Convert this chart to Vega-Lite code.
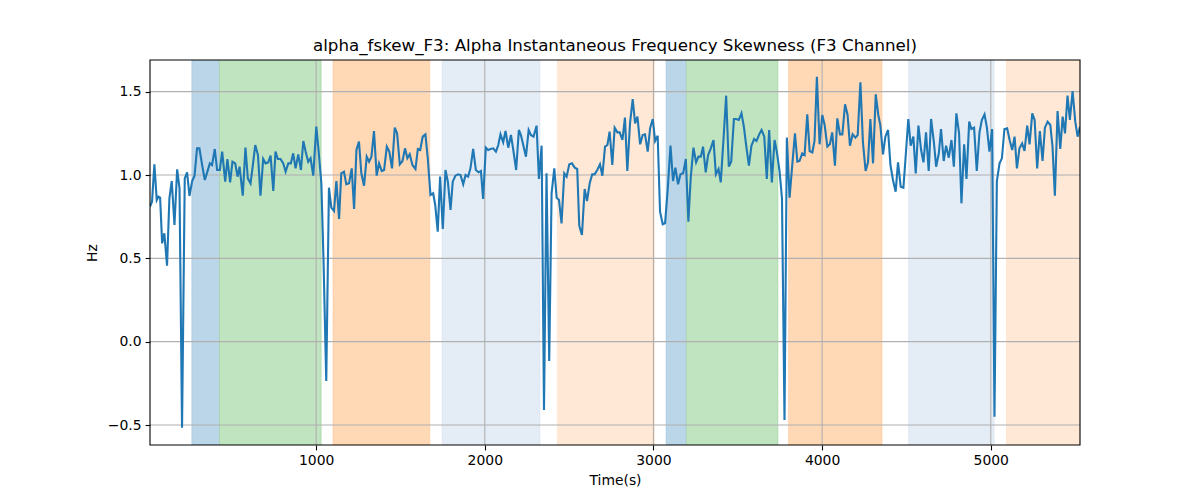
{
  "$schema": "https://vega.github.io/schema/vega-lite/v6.json",
  "width": 930,
  "height": 385,
  "autosize": {"type": "none"},
  "padding": {"left": 150, "top": 60, "right": 120, "bottom": 55},
  "background": "white",
  "title": {"text": "alpha_fskew_F3: Alpha Instantaneous Frequency Skewness (F3 Channel)", "font": "DejaVu Sans", "fontSize": 16.7, "fontWeight": "normal", "color": "black", "anchor": "middle", "frame": "group", "offset": -8, "baseline": "alphabetic"},
  "config": {
    "view": {"stroke": null},
    "axis": {"labelFont": "DejaVu Sans", "labelFontSize": 13.9, "labelColor": "black", "titleFont": "DejaVu Sans", "titleFontSize": 13.9, "titleFontWeight": "normal", "titleColor": "black", "tickColor": "black", "tickSize": 4.9, "tickWidth": 1.1, "domain": false, "grid": false, "labelPadding": 4}
  },
  "datasets": {
    "bands": [
      {"start": 263, "end": 427, "kind": "blue"},
      {"start": 427, "end": 1030, "kind": "green"},
      {"start": 1100, "end": 1674, "kind": "orange"},
      {"start": 1747, "end": 2327, "kind": "lightblue"},
      {"start": 2430, "end": 3006, "kind": "lightorange"},
      {"start": 3075, "end": 3195, "kind": "blue"},
      {"start": 3195, "end": 3738, "kind": "green"},
      {"start": 3801, "end": 4355, "kind": "orange"},
      {"start": 4513, "end": 5020, "kind": "lightblue"},
      {"start": 5093, "end": 5529, "kind": "lightorange"}
    ],
    "frame": [{"x0": 15, "x1": 5529, "y0": -0.62, "y1": 1.69}],
    "xgrid": [{"g": 1000}, {"g": 2000}, {"g": 3000}, {"g": 4000}, {"g": 5000}],
    "ygrid": [{"g": -0.5}, {"g": 0}, {"g": 0.5}, {"g": 1.0}, {"g": 1.5}],
    "series": [
      {"t":15,"v":0.81},{"t":27,"v":0.84},{"t":41,"v":1.064},{"t":55,"v":0.85},{"t":65,"v":0.87},{"t":75,"v":0.864},{"t":87,"v":0.59},{"t":100,"v":0.65},{"t":116,"v":0.456},{"t":130,"v":0.86},
      {"t":144,"v":0.964},{"t":160,"v":0.70},{"t":176,"v":1.034},{"t":190,"v":0.92},{"t":205,"v":-0.516},{"t":221,"v":0.98},{"t":235,"v":1.016},{"t":249,"v":0.874},{"t":265,"v":0.964},{"t":279,"v":0.996},
      {"t":294,"v":1.16},{"t":308,"v":1.16},{"t":324,"v":1.06},{"t":340,"v":0.97},{"t":354,"v":1.016},{"t":370,"v":1.07},{"t":383,"v":1.06},{"t":399,"v":1.156},{"t":413,"v":1.03},{"t":429,"v":1.03},
      {"t":443,"v":1.14},{"t":461,"v":0.96},{"t":474,"v":1.096},{"t":490,"v":0.956},{"t":504,"v":1.08},{"t":520,"v":1.07},{"t":534,"v":0.99},{"t":546,"v":1.05},{"t":565,"v":0.876},{"t":581,"v":1.164},
      {"t":595,"v":0.98},{"t":611,"v":0.95},{"t":625,"v":1.06},{"t":639,"v":1.18},{"t":655,"v":1.12},{"t":670,"v":0.876},{"t":686,"v":1.096},{"t":700,"v":1.07},{"t":716,"v":1.076},{"t":730,"v":1.116},
      {"t":746,"v":0.904},{"t":759,"v":1.14},{"t":773,"v":1.096},{"t":789,"v":1.096},{"t":805,"v":1.07},{"t":819,"v":1.02},{"t":835,"v":1.07},{"t":850,"v":1.07},{"t":864,"v":1.13},{"t":878,"v":1.04},
      {"t":894,"v":1.124},{"t":910,"v":1.03},{"t":924,"v":1.204},{"t":938,"v":1.14},{"t":953,"v":1.08},{"t":967,"v":1.10},{"t":983,"v":0.996},{"t":1001,"v":1.29},{"t":1015,"v":1.14},{"t":1031,"v":0.95},
      {"t":1044,"v":0.48},{"t":1060,"v":-0.236},{"t":1076,"v":0.924},{"t":1090,"v":0.804},{"t":1106,"v":0.784},{"t":1120,"v":0.964},{"t":1136,"v":0.736},{"t":1149,"v":1.01},{"t":1165,"v":1.02},{"t":1179,"v":0.944},
      {"t":1195,"v":0.95},{"t":1211,"v":1.04},{"t":1225,"v":0.796},{"t":1239,"v":1.15},{"t":1254,"v":1.20},{"t":1268,"v":1.01},{"t":1284,"v":0.936},{"t":1300,"v":1.11},{"t":1314,"v":1.08},{"t":1328,"v":1.11},
      {"t":1343,"v":1.264},{"t":1359,"v":0.996},{"t":1373,"v":1.07},{"t":1389,"v":1.024},{"t":1403,"v":1.03},{"t":1419,"v":1.17},{"t":1434,"v":1.14},{"t":1450,"v":1.04},{"t":1466,"v":1.284},{"t":1480,"v":1.25},
      {"t":1496,"v":1.064},{"t":1512,"v":1.084},{"t":1527,"v":1.16},{"t":1541,"v":1.10},{"t":1555,"v":1.124},{"t":1571,"v":1.06},{"t":1589,"v":1.036},{"t":1603,"v":1.156},{"t":1617,"v":1.15},{"t":1632,"v":1.23},
      {"t":1648,"v":1.244},{"t":1662,"v":1.10},{"t":1678,"v":0.88},{"t":1694,"v":0.89},{"t":1706,"v":0.82},{"t":1721,"v":0.66},{"t":1735,"v":0.99},{"t":1751,"v":0.676},{"t":1767,"v":1.03},{"t":1781,"v":0.96},
      {"t":1797,"v":0.79},{"t":1810,"v":0.96},{"t":1826,"v":0.996},{"t":1842,"v":1.004},{"t":1856,"v":1.0},{"t":1872,"v":0.944},{"t":1886,"v":1.0},{"t":1901,"v":0.99},{"t":1915,"v":1.04},{"t":1931,"v":1.156},
      {"t":1947,"v":1.03},{"t":1963,"v":1.016},{"t":1977,"v":1.024},{"t":1990,"v":0.856},{"t":2006,"v":1.164},{"t":2020,"v":1.15},{"t":2034,"v":1.156},{"t":2050,"v":1.16},{"t":2066,"v":1.14},{"t":2080,"v":1.18},
      {"t":2093,"v":1.244},{"t":2109,"v":1.196},{"t":2123,"v":1.264},{"t":2139,"v":1.164},{"t":2155,"v":1.24},{"t":2169,"v":1.15},{"t":2186,"v":1.03},{"t":2202,"v":1.27},{"t":2214,"v":1.24},{"t":2228,"v":1.18},
      {"t":2244,"v":1.11},{"t":2260,"v":1.27},{"t":2273,"v":1.24},{"t":2289,"v":1.23},{"t":2307,"v":1.296},{"t":2321,"v":0.976},{"t":2337,"v":1.176},{"t":2351,"v":-0.41},{"t":2366,"v":1.01},{"t":2382,"v":-0.116},
      {"t":2396,"v":0.89},{"t":2412,"v":1.04},{"t":2426,"v":0.864},{"t":2440,"v":0.85},{"t":2455,"v":0.71},{"t":2471,"v":1.01},{"t":2485,"v":0.99},{"t":2501,"v":1.064},{"t":2517,"v":1.07},{"t":2533,"v":1.044},
      {"t":2548,"v":1.036},{"t":2560,"v":0.696},{"t":2576,"v":0.64},{"t":2592,"v":0.916},{"t":2606,"v":0.844},{"t":2622,"v":0.95},{"t":2637,"v":1.004},{"t":2651,"v":1.004},{"t":2667,"v":1.03},{"t":2683,"v":1.064},
      {"t":2697,"v":0.996},{"t":2713,"v":1.17},{"t":2727,"v":1.18},{"t":2740,"v":1.26},{"t":2756,"v":1.06},{"t":2770,"v":1.284},{"t":2786,"v":1.256},{"t":2800,"v":1.256},{"t":2816,"v":1.21},{"t":2831,"v":1.344},
      {"t":2845,"v":1.024},{"t":2861,"v":1.31},{"t":2877,"v":1.456},{"t":2891,"v":1.31},{"t":2905,"v":1.35},{"t":2921,"v":1.184},{"t":2936,"v":1.24},{"t":2950,"v":1.244},{"t":2966,"v":1.14},{"t":2980,"v":1.28},
      {"t":2996,"v":1.336},{"t":3010,"v":1.204},{"t":3025,"v":1.236},{"t":3039,"v":0.78},{"t":3055,"v":0.704},{"t":3069,"v":0.71},{"t":3085,"v":0.92},{"t":3101,"v":1.176},{"t":3116,"v":0.964},{"t":3130,"v":1.044},
      {"t":3146,"v":0.944},{"t":3160,"v":1.004},{"t":3176,"v":1.01},{"t":3192,"v":1.096},{"t":3207,"v":0.72},{"t":3221,"v":0.984},{"t":3237,"v":1.164},{"t":3253,"v":1.076},{"t":3267,"v":1.11},{"t":3281,"v":1.11},
      {"t":3294,"v":1.17},{"t":3310,"v":1.016},{"t":3324,"v":1.12},{"t":3340,"v":1.16},{"t":3356,"v":1.21},{"t":3370,"v":1.004},{"t":3386,"v":1.036},{"t":3399,"v":0.956},{"t":3415,"v":1.21},{"t":3431,"v":1.476},
      {"t":3447,"v":1.05},{"t":3461,"v":1.08},{"t":3477,"v":1.336},{"t":3490,"v":1.336},{"t":3506,"v":1.33},{"t":3522,"v":1.37},{"t":3536,"v":1.29},{"t":3552,"v":1.16},{"t":3566,"v":1.056},{"t":3581,"v":1.176},
      {"t":3597,"v":1.216},{"t":3611,"v":1.204},{"t":3627,"v":1.244},{"t":3641,"v":1.27},{"t":3657,"v":1.23},{"t":3672,"v":0.976},{"t":3686,"v":1.27},{"t":3702,"v":0.956},{"t":3718,"v":1.21},{"t":3732,"v":1.136},
      {"t":3748,"v":1.02},{"t":3762,"v":0.86},{"t":3777,"v":-0.47},{"t":3791,"v":1.224},{"t":3807,"v":0.864},{"t":3823,"v":1.06},{"t":3839,"v":1.25},{"t":3853,"v":1.08},{"t":3866,"v":1.084},{"t":3882,"v":1.13},
      {"t":3896,"v":1.12},{"t":3912,"v":1.364},{"t":3926,"v":1.144},{"t":3942,"v":1.136},{"t":3955,"v":1.204},{"t":3969,"v":1.59},{"t":3985,"v":1.184},{"t":4001,"v":1.36},{"t":4015,"v":1.30},{"t":4031,"v":1.17},
      {"t":4046,"v":1.184},{"t":4060,"v":1.256},{"t":4076,"v":1.056},{"t":4090,"v":1.34},{"t":4106,"v":1.244},{"t":4120,"v":1.244},{"t":4136,"v":1.424},{"t":4151,"v":1.36},{"t":4165,"v":1.176},{"t":4181,"v":1.244},
      {"t":4197,"v":1.224},{"t":4211,"v":1.24},{"t":4227,"v":1.556},{"t":4242,"v":1.196},{"t":4258,"v":1.024},{"t":4272,"v":1.076},{"t":4286,"v":1.336},{"t":4302,"v":1.07},{"t":4318,"v":1.484},{"t":4333,"v":1.36},
      {"t":4345,"v":1.30},{"t":4361,"v":1.124},{"t":4375,"v":1.23},{"t":4391,"v":1.27},{"t":4405,"v":1.06},{"t":4420,"v":0.97},{"t":4436,"v":0.90},{"t":4450,"v":1.076},{"t":4466,"v":0.93},{"t":4482,"v":0.924},
      {"t":4496,"v":1.12},{"t":4511,"v":1.336},{"t":4525,"v":1.176},{"t":4541,"v":1.23},{"t":4555,"v":1.01},{"t":4571,"v":1.296},{"t":4587,"v":1.15},{"t":4601,"v":1.076},{"t":4616,"v":1.256},{"t":4632,"v":1.024},
      {"t":4646,"v":1.336},{"t":4662,"v":1.204},{"t":4676,"v":1.05},{"t":4692,"v":1.13},{"t":4705,"v":1.276},{"t":4721,"v":1.084},{"t":4735,"v":1.176},{"t":4751,"v":1.104},{"t":4767,"v":1.21},{"t":4781,"v":1.05},
      {"t":4796,"v":1.37},{"t":4812,"v":1.25},{"t":4826,"v":0.83},{"t":4842,"v":1.184},{"t":4856,"v":0.976},{"t":4872,"v":1.32},{"t":4885,"v":1.276},{"t":4901,"v":1.284},{"t":4917,"v":1.024},{"t":4933,"v":1.256},
      {"t":4947,"v":1.33},{"t":4963,"v":1.364},{"t":4977,"v":1.284},{"t":4992,"v":1.14},{"t":5008,"v":1.276},{"t":5022,"v":-0.45},{"t":5036,"v":0.964},{"t":5052,"v":1.07},{"t":5066,"v":1.10},{"t":5081,"v":1.276},
      {"t":5097,"v":1.28},{"t":5113,"v":1.204},{"t":5127,"v":1.15},{"t":5141,"v":1.23},{"t":5155,"v":1.04},{"t":5170,"v":1.16},{"t":5186,"v":1.19},{"t":5200,"v":1.144},{"t":5216,"v":1.296},{"t":5230,"v":1.184},
      {"t":5246,"v":1.37},{"t":5260,"v":1.33},{"t":5275,"v":1.04},{"t":5291,"v":1.264},{"t":5307,"v":1.084},{"t":5321,"v":1.284},{"t":5337,"v":1.32},{"t":5353,"v":1.30},{"t":5366,"v":1.17},{"t":5380,"v":0.876},
      {"t":5396,"v":1.384},{"t":5412,"v":1.156},{"t":5426,"v":1.35},{"t":5440,"v":1.25},{"t":5455,"v":1.476},{"t":5469,"v":1.33},{"t":5485,"v":1.504},{"t":5501,"v":1.32},{"t":5515,"v":1.23},{"t":5529,"v":1.29}
    ]
  },
  "layer": [
    {
      "data": {"name": "bands"},
      "mark": {"type": "rect", "strokeWidth": 1, "strokeOpacity": 0.45, "clip": true},
      "encoding": {
        "x": {"field": "start", "type": "quantitative", "scale": {"domain": [15, 5529], "nice": false, "zero": false}, "axis": {"values": [1000, 2000, 3000, 4000, 5000], "format": "d", "title": "Time(s)", "titlePadding": 6, "labelFlush": false}},
        "x2": {"field": "end"},
        "fill": {"field": "kind", "type": "nominal", "scale": {"domain": ["blue", "green", "orange", "lightblue", "lightorange"], "range": ["#bbd6e8", "#c0e3c0", "#ffd8b6", "#e4ecf6", "#ffe9d6"]}, "legend": null},
        "stroke": {"field": "kind", "type": "nominal", "scale": {"domain": ["blue", "green", "orange", "lightblue", "lightorange"], "range": ["#8fbbd9", "#8dcc8d", "#ffbf87", "#cfdcee", "#ffd9b8"]}, "legend": null}
      }
    },
    {
      "data": {"name": "xgrid"},
      "mark": {"type": "rule", "color": "#b0b0b0", "strokeWidth": 1.1},
      "encoding": {"x": {"field": "g", "type": "quantitative", "scale": {"domain": [15, 5529], "nice": false, "zero": false}}}
    },
    {
      "data": {"name": "ygrid"},
      "mark": {"type": "rule", "color": "#b0b0b0", "strokeWidth": 1.1},
      "encoding": {"y": {"field": "g", "type": "quantitative", "scale": {"domain": [-0.62, 1.69], "nice": false, "zero": false}, "axis": {"values": [-0.5, 0, 0.5, 1.0, 1.5], "format": ".1f", "title": "Hz", "titlePadding": 8}}}
    },
    {
      "data": {"name": "series"},
      "mark": {"type": "line", "color": "#1f77b4", "strokeWidth": 2.1, "clip": true},
      "encoding": {
        "x": {"field": "t", "type": "quantitative", "scale": {"domain": [15, 5529], "nice": false, "zero": false}},
        "y": {"field": "v", "type": "quantitative", "scale": {"domain": [-0.62, 1.69], "nice": false, "zero": false}}
      }
    },
    {
      "data": {"name": "frame"},
      "mark": {"type": "rect", "fill": null, "fillOpacity": 0, "stroke": "black", "strokeWidth": 1.1},
      "encoding": {
        "x": {"field": "x0", "type": "quantitative", "scale": {"domain": [15, 5529], "nice": false, "zero": false}},
        "x2": {"field": "x1"},
        "y": {"field": "y0", "type": "quantitative", "scale": {"domain": [-0.62, 1.69], "nice": false, "zero": false}},
        "y2": {"field": "y1"}
      }
    }
  ]
}
